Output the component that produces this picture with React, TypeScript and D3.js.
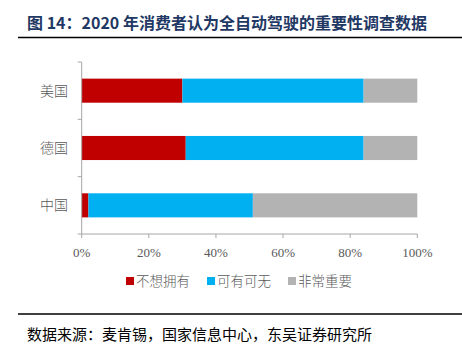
import React, { useRef, useEffect } from "react";
import * as d3 from "d3";

// survey: importance of fully self-driving cars (2020)
const countries = ["美国", "德国", "中国"];
const seriesNames = ["不想拥有", "可有可无", "非常重要"];
const dontWant = [30, 31, 2];
const optional = [54, 53, 49];
const important = [16, 16, 49];
const xTicks = [0, 20, 40, 60, 80, 100];
const colors = ["#c00000", "#00b0f0", "#b3b3b3"];

const title = "图 14：2020 年消费者认为全自动驾驶的重要性调查数据";
const source = "数据来源：麦肯锡，国家信息中心，东吴证券研究所";

function App() {
  const ref = useRef<HTMLDivElement>(null);

  function drawChart() {
    const [width, height] = [462, 354];
    const cjk = "'Noto Sans CJK SC', sans-serif";
    const serif = "'Liberation Serif', 'Times New Roman', serif";

    const root = d3.select(ref.current);
    root.selectAll("*").remove();
    const svg = root
      .append("svg")
      .attr("width", width)
      .attr("height", height)
      .style("position", "absolute")
      .style("left", 0)
      .style("top", 0)
      .style("background", "#fff");

    // header
    svg
      .append("text")
      .attr("x", 27)
      .attr("y", 29)
      .attr("fill", "#1f3864")
      .attr("font-family", cjk)
      .attr("font-weight", "bold")
      .attr("font-size", 16)
      .text(title);
    svg
      .append("line")
      .attr("x1", 18)
      .attr("x2", width)
      .attr("y1", 37.5)
      .attr("y2", 37.5)
      .attr("stroke", "#000")
      .attr("stroke-width", 1.5);

    const x = d3.scaleLinear().domain([0, 100]).range([81.7, 417.3]);
    const y = d3
      .scaleBand()
      .domain(countries)
      .range([62, 234])
      .paddingInner(0.58)
      .paddingOuter(0.29);

    const rows = countries.map((c, i) => ({
      country: c,
      dontWant: dontWant[i],
      optional: optional[i],
      important: important[i],
    }));
    const stack = d3
      .stack<any>()
      .keys(["dontWant", "optional", "important"])(rows);

    svg
      .append("g")
      .selectAll("g")
      .data(stack)
      .join("g")
      .attr("fill", (_, i) => colors[i])
      .selectAll("rect")
      .data((s) => s)
      .join("rect")
      .attr("x", (d) => x(d[0]))
      .attr("width", (d) => x(d[1]) - x(d[0]))
      .attr("y", (d) => y(d.data.country)!)
      .attr("height", y.bandwidth());

    // y axis
    const axisColor = "#a6a6a6";
    const gy = svg.append("g").attr("stroke", axisColor);
    gy.append("line")
      .attr("x1", x(0))
      .attr("x2", x(0))
      .attr("y1", 62)
      .attr("y2", 234);
    gy.selectAll(".t")
      .data(d3.range(countries.length + 1))
      .join("line")
      .attr("class", "t")
      .attr("x1", x(0) - 4)
      .attr("x2", x(0))
      .attr("y1", (d) => 62 + d * (172 / countries.length))
      .attr("y2", (d) => 62 + d * (172 / countries.length));

    svg
      .append("g")
      .selectAll("text")
      .data(countries)
      .join("text")
      .attr("x", 68)
      .attr("y", (d) => y(d)! + y.bandwidth() / 2)
      .attr("dy", "0.35em")
      .attr("text-anchor", "end")
      .attr("fill", "#595959")
      .attr("font-family", cjk)
      .attr("font-weight", 300)
      .attr("font-size", 14)
      .text((d) => d);

    // x axis
    const gx = svg.append("g");
    gx.append("line")
      .attr("x1", x(0))
      .attr("x2", x(100))
      .attr("y1", 234)
      .attr("y2", 234)
      .attr("stroke", axisColor);
    gx.selectAll(".tick")
      .data(xTicks)
      .join("line")
      .attr("class", "tick")
      .attr("x1", (d) => x(d))
      .attr("x2", (d) => x(d))
      .attr("y1", 234)
      .attr("y2", 238)
      .attr("stroke", axisColor);
    gx.selectAll("text")
      .data(xTicks)
      .join("text")
      .attr("x", (d) => x(d))
      .attr("y", 257)
      .attr("text-anchor", "middle")
      .attr("fill", "#595959")
      .attr("font-family", serif)
      .attr("font-size", 13)
      .text((d) => d + "%");

    // legend
    const legendX = [126, 207, 288];
    const lg = svg
      .append("g")
      .selectAll("g")
      .data(seriesNames)
      .join("g")
      .attr("transform", (_, i) => `translate(${legendX[i]},281)`);
    lg.append("rect")
      .attr("x", 0)
      .attr("y", -4)
      .attr("width", 8)
      .attr("height", 8)
      .attr("fill", (_, i) => colors[i]);
    lg.append("text")
      .attr("x", 10)
      .attr("dy", "0.36em")
      .attr("fill", "#595959")
      .attr("font-family", cjk)
      .attr("font-weight", 300)
      .attr("font-size", 13.5)
      .text((d) => d);

    // footer
    svg
      .append("line")
      .attr("x1", 18)
      .attr("x2", width)
      .attr("y1", 314)
      .attr("y2", 314)
      .attr("stroke", "#000")
      .attr("stroke-width", 1.5);
    svg
      .append("text")
      .attr("x", 27)
      .attr("y", 340)
      .attr("fill", "#000")
      .attr("font-family", cjk)
      .attr("font-size", 15)
      .text(source);
  }

  useEffect(() => {
    drawChart();
  }, []);

  return <div ref={ref} />;
}

export default App;
